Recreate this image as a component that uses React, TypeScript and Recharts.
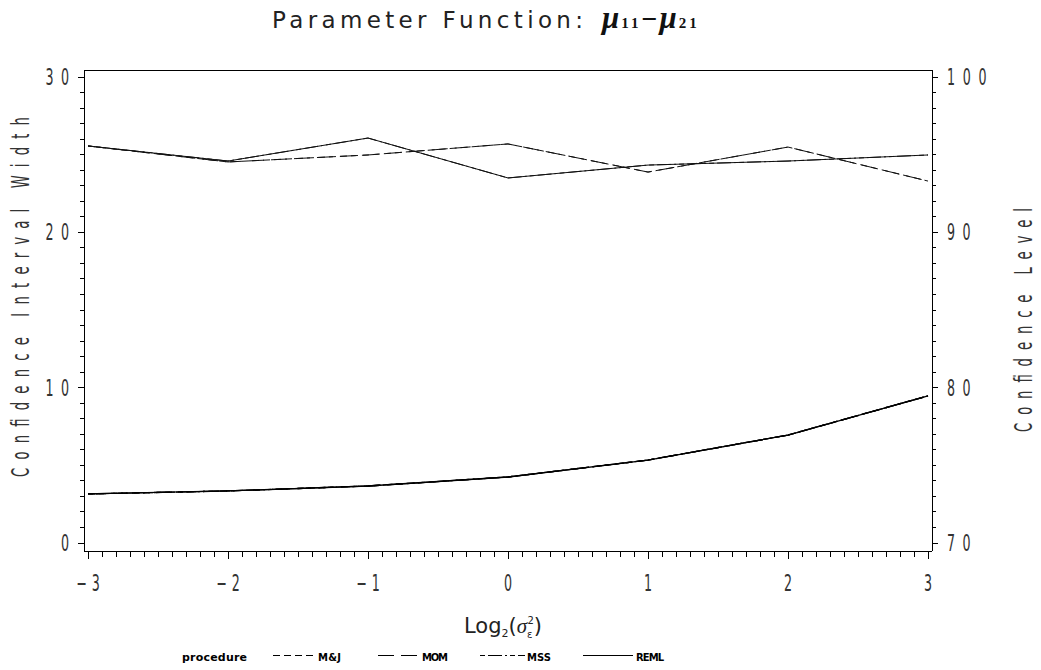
import { LineChart, Line, XAxis, YAxis } from 'recharts';

// categories: log2 of the variance component
const xValues = [-3, -2, -1, 0, 1, 2, 3];
const xTickLabels = ['−3', '−2', '−1', '0', '1', '2', '3'];

// confidence interval width (left axis)
const widthMJ = [3.16, 3.35, 3.67, 4.25, 5.34, 6.95, 9.47];
const widthMOM = [3.16, 3.35, 3.67, 4.25, 5.34, 6.95, 9.47];
const widthMSS = [3.16, 3.35, 3.67, 4.25, 5.34, 6.95, 9.47];
const widthREML = [3.16, 3.35, 3.67, 4.25, 5.34, 6.95, 9.47];

// confidence level (right axis)
const levelMJ = [95.56, 94.53, 94.98, 95.69, 93.88, 95.49, 93.3];
const levelMOM = [95.56, 94.53, 94.98, 95.69, 93.88, 95.49, 93.3];
const levelMSS = [95.56, 94.59, 96.07, 93.5, 94.33, 94.59, 94.98];
const levelREML = [95.56, 94.59, 96.07, 93.5, 94.33, 94.59, 94.98];

const widthTicks = [0, 10, 20, 30];
const levelTicks = [70, 80, 90, 100];
const procedures = ['M&J', 'MOM', 'MSS', 'REML'];

const rows = xValues.map((x, i) => ({
  x,
  mjWidth: widthMJ[i],
  momWidth: widthMOM[i],
  mssWidth: widthMSS[i],
  remlWidth: widthREML[i],
  mjLevel: levelMJ[i],
  momLevel: levelMOM[i],
  mssLevel: levelMSS[i],
  remlLevel: levelREML[i],
}));

const series = [
  { name: procedures[0], w: 'mjWidth', l: 'mjLevel', dash: '7 4' },
  { name: procedures[1], w: 'momWidth', l: 'momLevel', dash: '16 7' },
  { name: procedures[2], w: 'mssWidth', l: 'mssLevel', dash: '5 3 14 3 2 3' },
  { name: procedures[3], w: 'remlWidth', l: 'remlLevel', dash: undefined },
];

// minor tick positions (one per 0.1 on x, one per unit on y)
const xMinor: number[] = [];
for (let i = 0; i <= 60; i++) xMinor.push(Math.round((xValues[0] + i / 10) * 10) / 10);
const widthMinor: number[] = [];
for (let v = widthTicks[0]; v <= widthTicks[widthTicks.length - 1]; v++) widthMinor.push(v);
const levelMinor: number[] = [];
for (let v = levelTicks[0]; v <= levelTicks[levelTicks.length - 1]; v++) levelMinor.push(v);

const FONT = "'DejaVu Sans', sans-serif";
const AXIS = { stroke: '#000', shapeRendering: 'crispEdges' };

function Narrow({ x, y, children, w, size = 23, anchor = 'middle', rotate = 0, sx = 0.55, fill = '#333' }: any) {
  return (
    <text
      transform={`translate(${x} ${y}) rotate(${rotate}) scale(${sx} 1)`}
      x={0}
      y={0}
      fontSize={size}
      fontFamily={FONT}
      fill={fill}
      textAnchor={anchor}
      dominantBaseline="central"
      textLength={w / sx}
      lengthAdjust="spacing"
    >
      {children}
    </text>
  );
}

const labelWidth = (s: string) => s.length * 7.5 + (s.length - 1) * 8.5;

function BottomTick({ x, payload }: any) {
  const v = payload.value;
  const idx = xValues.indexOf(v);
  const major = idx >= 0;
  return (
    <g>
      <line x1={x} x2={x} y1={551} y2={551 + (major ? 8 : 6)} stroke="#000" shapeRendering="crispEdges" />
      {major && (
        <Narrow x={x} y={583} w={labelWidth(xTickLabels[idx])}>
          {xTickLabels[idx]}
        </Narrow>
      )}
    </g>
  );
}

function LeftTick({ y, payload }: any) {
  const v = payload.value;
  const major = widthTicks.includes(v);
  return (
    <g>
      <line x1={84} x2={84 - (major ? 6 : 4)} y1={y} y2={y} stroke="#000" shapeRendering="crispEdges" />
      {major && (
        <Narrow x={69} y={y} anchor="end" w={labelWidth(String(v))}>
          {String(v)}
        </Narrow>
      )}
    </g>
  );
}

function RightTick({ y, payload }: any) {
  const v = payload.value;
  const major = levelTicks.includes(v);
  return (
    <g>
      <line x1={932} x2={932 + (major ? 6 : 4)} y1={y} y2={y} stroke="#000" shapeRendering="crispEdges" />
      {major && (
        <Narrow x={947} y={y} anchor="start" w={labelWidth(String(v))}>
          {String(v)}
        </Narrow>
      )}
    </g>
  );
}

const legendPos = [
  { line: [273, 313], text: 318, tw: 23 },
  { line: [378, 417], text: 422, tw: 26 },
  { line: [480, 525], text: 527, tw: 24 },
  { line: [583, 633], text: 636, tw: 28 },
];

export default function App() {
  return (
    <div style={{ position: 'absolute', left: 0, top: 0, width: 1041, height: 670, background: '#fff' }}>
      <LineChart
        width={1041}
        height={670}
        data={rows}
        margin={{ top: 69, right: 108, bottom: 118, left: 83 }}
      >
        <XAxis
          dataKey="x"
          type="number"
          domain={[-3, 3]}
          ticks={xMinor}
          interval={0}
          padding={{ left: 4, right: 4 }}
          height={1}
          tickSize={0}
          tickMargin={0}
          tickLine={false}
          axisLine={AXIS}
          tick={(p: any) => <BottomTick {...p} />}
        />
        <XAxis
          xAxisId="top"
          orientation="top"
          dataKey="x"
          type="number"
          domain={[-3, 3]}
          height={1}
          tick={false}
          tickLine={false}
          axisLine={AXIS}
        />
        <YAxis
          yAxisId="width"
          orientation="left"
          type="number"
          domain={[0, 30]}
          ticks={widthMinor}
          interval={0}
          padding={{ top: 7, bottom: 8 }}
          width={1}
          tickSize={0}
          tickMargin={0}
          tickLine={false}
          axisLine={AXIS}
          tick={(p: any) => <LeftTick {...p} />}
        />
        <YAxis
          yAxisId="level"
          orientation="right"
          type="number"
          domain={[70, 100]}
          ticks={levelMinor}
          interval={0}
          padding={{ top: 7, bottom: 8 }}
          width={1}
          tickSize={0}
          tickMargin={0}
          tickLine={false}
          axisLine={AXIS}
          tick={(p: any) => <RightTick {...p} />}
        />
        {series.map((s) => (
          <Line
            key={s.w}
            yAxisId="width"
            dataKey={s.w}
            type="linear"
            stroke="#000"
            strokeWidth={1.3}
            strokeDasharray={s.dash}
            dot={false}
            activeDot={false}
            isAnimationActive={false}
          />
        ))}
        {series.map((s) => (
          <Line
            key={s.l}
            yAxisId="level"
            dataKey={s.l}
            type="linear"
            stroke="#111"
            strokeWidth={1}
            strokeDasharray={s.dash}
            dot={false}
            activeDot={false}
            isAnimationActive={false}
          />
        ))}
      </LineChart>

      <svg
        width={1041}
        height={670}
        style={{ position: 'absolute', left: 0, top: 0, pointerEvents: 'none' }}
      >
        <text x={272} y={28} fontSize={23} fontFamily={FONT} fill="#222" textLength={311} lengthAdjust="spacing">
          Parameter Function:
        </text>
        <text x={602} y={28} fontFamily="'Liberation Serif', serif" fontWeight="bold" fill="#111">
          <tspan fontSize={31} fontStyle="italic">μ</tspan>
          <tspan fontSize={15} dx={2} letterSpacing={3}>11</tspan>
          <tspan fontSize={28} dx={0}>−</tspan>
          <tspan fontSize={31} fontStyle="italic" dx={2}>μ</tspan>
          <tspan fontSize={15} dx={2} letterSpacing={3}>21</tspan>
        </text>

        <Narrow x={21} y={297} rotate={-90} w={360} size={24}>
          Confidence Interval Width
        </Narrow>
        <Narrow x={1024} y={320} rotate={-90} w={224} size={24}>
          Confidence Level
        </Narrow>

        <text x={464} y={633} fontSize={21} fontFamily={FONT} fill="#222">
          <tspan>Log</tspan>
          <tspan fontSize={11} dy={4}>2</tspan>
          <tspan dy={-4}>(</tspan>
          <tspan fontFamily="'Liberation Serif', serif" fontStyle="italic">σ</tspan>
          <tspan fontSize={10} dy={5}>ε</tspan>
          <tspan fontSize={10} dy={-14} dx={-5}>2</tspan>
          <tspan dy={9}>)</tspan>
        </text>

        <text x={182} y={661} fontSize={11} fontWeight="bold" fontFamily={FONT} fill="#000" textLength={65} lengthAdjust="spacing">
          procedure
        </text>
        {series.map((s, i) => (
          <g key={s.name}>
            <line
              x1={legendPos[i].line[0]}
              x2={legendPos[i].line[1]}
              y1={655.5}
              y2={655.5}
              stroke="#000"
              strokeDasharray={s.dash}
            />
            <text
              x={legendPos[i].text}
              y={661}
              fontSize={10}
              fontWeight="bold"
              fontFamily={FONT}
              fill="#000"
              textLength={legendPos[i].tw}
              lengthAdjust="spacing"
            >
              {s.name}
            </text>
          </g>
        ))}
      </svg>
    </div>
  );
}
